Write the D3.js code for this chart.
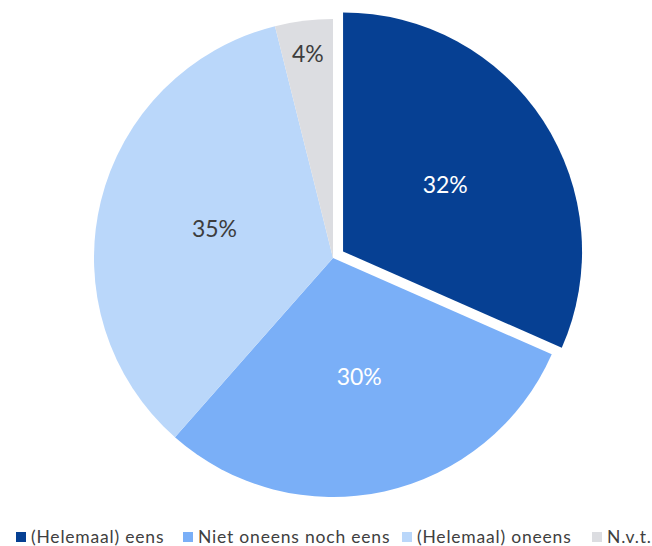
<!DOCTYPE html>
<html>
<head>
<meta charset="utf-8">
<script src="https://cdn.jsdelivr.net/npm/d3@7"></script>
<style>
  body { margin: 0; background: #fff; }
  svg { display: block; font-family: Lato, "Open Sans", sans-serif; }
</style>
</head>
<body>
<div id="chart"></div>
<script>
// data
const categories = ["(Helemaal) eens", "Niet oneens noch eens", "(Helemaal) oneens", "N.v.t."];
const values = [31.6, 29.9, 34.6, 3.9];
const labels = ["32%", "30%", "35%", "4%"];
const colors = ["#064093", "#7aaff7", "#bad7fa", "#dcdde1"];

const width = 652, height = 546;
const cx = 333, cy = 258, radius = 239;
const explode = 12;

const svg = d3.select("#chart")
    .append("svg")
    .attr("width", width)
    .attr("height", height);

const pie = d3.pie().sort(null).value(function(d) { return d; });
const arcs = pie(values);
const arc = d3.arc().innerRadius(0).outerRadius(radius);

function offset(d, i) {
    if (i != 0) return [0, 0];
    const a = (d.startAngle + d.endAngle) / 2;
    return [Math.sin(a) * explode, -Math.cos(a) * explode];
}

const g = svg.append("g").attr("transform", "translate(" + cx + "," + cy + ")");

const slices = g.selectAll(".slice")
    .data(arcs)
    .enter()
    .append("g")
    .attr("class", "slice")
    .attr("transform", function(d, i) {
        const o = offset(d, i);
        return "translate(" + o[0] + "," + o[1] + ")";
    });

slices.append("path")
    .attr("d", arc)
    .attr("fill", function(d, i) { return colors[i]; });

slices.append("text")
    .attr("transform", function(d) {
        const a = (d.startAngle + d.endAngle) / 2;
        const r = (d.endAngle - d.startAngle) < 0.5 ? 206 : 122;
        return "translate(" + (Math.sin(a) * r) + "," + (-Math.cos(a) * r) + ")";
    })
    .attr("text-anchor", "middle")
    .attr("dy", "0.36em")
    .attr("font-size", 23)
    .attr("fill", function(d, i) { return i < 2 ? "#ffffff" : "#3d3d3d"; })
    .text(function(d, i) { return labels[i]; });

// legend
const legendX = [16, 183, 402, 592];
const legend = svg.selectAll(".legend")
    .data(categories)
    .enter()
    .append("g")
    .attr("class", "legend")
    .attr("transform", function(d, i) { return "translate(" + legendX[i] + ",537)"; });

legend.append("rect")
    .attr("x", 0)
    .attr("y", -5)
    .attr("width", 10)
    .attr("height", 10)
    .attr("fill", function(d, i) { return colors[i]; });

legend.append("text")
    .attr("x", 15)
    .attr("dy", "0.35em")
    .attr("font-size", 17.5)
    .attr("letter-spacing", 0.8)
    .attr("fill", "#404040")
    .text(function(d) { return d; });
</script>
</body>
</html>
